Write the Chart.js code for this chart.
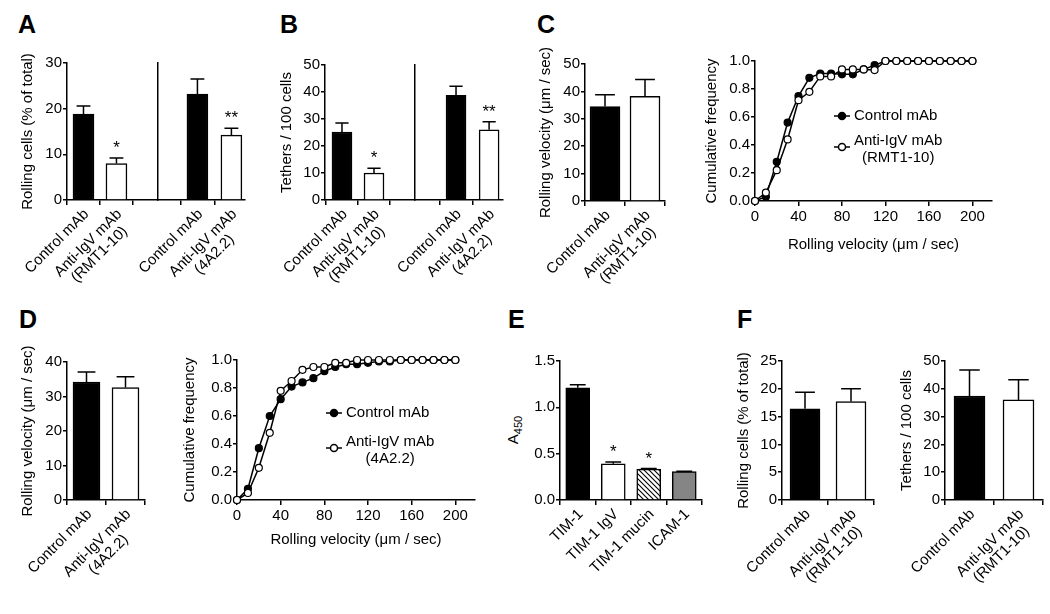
<!DOCTYPE html>
<html>
<head>
<meta charset="utf-8">
<script src="https://cdn.jsdelivr.net/npm/chart.js@4.4.1/dist/chart.umd.min.js"></script>
<style>
  body { margin: 0; width: 1050px; height: 614px; position: relative; overflow: hidden; background: #fff;
         font-family: 'Liberation Sans', Arial, Helvetica, sans-serif; color: #000; }
  .letter { position: absolute; font-weight: bold; font-size: 25px; line-height: 24px; }
  .ytitle { position: absolute; font-size: 15px; white-space: nowrap; transform: translate(-50%, -50%) rotate(-90deg); }
  .ytitle sub { font-size: 11px; }
</style>
</head>
<body>
<div class="letter" style="left:18px;top:12px">A</div>
<div class="letter" style="left:280px;top:12px">B</div>
<div class="letter" style="left:537px;top:12px">C</div>
<div class="letter" style="left:19px;top:307px">D</div>
<div class="letter" style="left:508px;top:307px">E</div>
<div class="letter" style="left:737px;top:307px">F</div>
<div class="ytitle" style="left:514px;top:430px">A<sub>450</sub></div>
<script>
const FONT = "'Liberation Sans', Arial, Helvetica, sans-serif";

// ---- data ----
const labelsRmt = ['Control mAb', ['Anti-IgV mAb', '(RMT1-10)']];
const labels4a2 = ['Control mAb', ['Anti-IgV mAb', '(4A2.2)']];

const aRmtMean = [18.8, 8.0];
const aRmtSem = [1.8, 1.2];
const aRmtSig = ['', '*'];
const a4a2Mean = [23.2, 14.2];
const a4a2Sem = [3.3, 1.5];
const a4a2Sig = ['', '**'];

const bRmtMean = [25.2, 10.0];
const bRmtSem = [3.3, 1.8];
const bRmtSig = ['', '*'];
const b4a2Mean = [38.8, 26.0];
const b4a2Sem = [3.3, 3.0];
const b4a2Sig = ['', '**'];

const cVelMean = [34.5, 38.2];
const cVelSem = [4.3, 6.1];
const dVelMean = [34.2, 32.6];
const dVelSem = [2.9, 3.1];

const velocityBins = [0, 10, 20, 30, 40, 50, 60, 70, 80, 90, 100, 110, 120, 130, 140, 150, 160, 170, 180, 190, 200];
const velocityTicks = [0, 40, 80, 120, 160, 200];
const cControlFreq = [0, 0.03, 0.28, 0.56, 0.75, 0.88, 0.91, 0.91, 0.905, 0.905, 0.94, 0.97, 1, 1, 1, 1, 1, 1, 1, 1, 1];
const cAntiFreq = [0, 0.06, 0.22, 0.44, 0.72, 0.78, 0.89, 0.89, 0.94, 0.94, 0.94, 0.935, 1, 1, 1, 1, 1, 1, 1, 1, 1];
const dControlFreq = [0, 0.08, 0.37, 0.6, 0.72, 0.81, 0.84, 0.87, 0.92, 0.95, 0.97, 0.97, 0.98, 0.99, 0.99, 1, 1, 1, 1, 1, 1];
const dAntiFreq = [0, 0.05, 0.23, 0.48, 0.78, 0.85, 0.93, 0.95, 0.95, 0.98, 0.98, 1, 1, 1, 1, 1, 1, 1, 1, 1, 1];

const eLabels = ['TIM-1', 'TIM-1 IgV', 'TIM-1 mucin', 'ICAM-1'];
const eMean = [1.21, 0.39, 0.333, 0.307];
const eSem = [0.035, 0.02, 0.006, 0.004];
const eSig = ['', '*', '*', ''];

const fRollMean = [16.4, 17.7];
const fRollSem = [3.0, 2.3];
const fTethMean = [37.4, 36.0];
const fTethSem = [9.4, 7.3];

// ---- helpers ----
function makeCanvas(left, top, width, height) {
  const c = document.createElement('canvas');
  c.width = width; c.height = height;
  c.style.cssText = `position:absolute;left:${left}px;top:${top}px;width:${width}px;height:${height}px`;
  document.body.appendChild(c);
  return c.getContext('2d');
}

// places a canvas so the chart area lands on box.L/R/T/B
function frame(box) {
  const padTop = 45, padRight = 14;
  const yW = box.titleX != null ? box.L - (box.titleX - 9) : (box.yW || 70);
  const xH = box.xTitleY != null ? box.xTitleY + 9 - box.B : 110;
  const ctx = makeCanvas(box.L - yW, box.T - padTop, yW + (box.R - box.L) + padRight, padTop + (box.B - box.T) + xH);
  return { ctx, yW, xH, padTop, padRight };
}

function hatchPattern() {
  const p = document.createElement('canvas');
  p.width = 5; p.height = 5;
  const g = p.getContext('2d');
  g.fillStyle = '#fff'; g.fillRect(0, 0, 5, 5);
  g.strokeStyle = '#000'; g.lineWidth = 1.1;
  g.beginPath();
  g.moveTo(-1, -1); g.lineTo(6, 6);
  g.moveTo(-1, 4); g.lineTo(1, 6);
  g.moveTo(4, -1); g.lineTo(6, 1);
  g.stroke();
  return g.createPattern(p, 'repeat');
}

function yAxis(f, o) {
  const showTicks = o.ticks !== false;
  return {
    type: 'linear', min: 0, max: o.max,
    afterFit: s => { s.width = f.yW; s.paddingTop = 0; s.paddingBottom = 0; },
    border: { display: true, color: '#000', width: 1.5 },
    grid: { drawOnChartArea: false, drawTicks: showTicks, tickLength: 4, color: '#000', lineWidth: 1.5 },
    ticks: { display: showTicks, stepSize: o.step, color: '#000', padding: 1,
             font: { family: FONT, size: 15 }, callback: o.fmt || (v => v) },
    title: { display: !!o.title, text: o.title, color: '#000', padding: 0, font: { family: FONT, size: 15 } }
  };
}

function labelPlugin(labels) {
  return {
    id: 'catLabels',
    afterDraw(chart) {
      const { ctx } = chart;
      const xs = chart.scales.x;
      const y0 = chart.chartArea.bottom;
      ctx.save();
      ctx.font = `15px ${FONT}`;
      ctx.fillStyle = '#000';
      ctx.textAlign = 'center';
      ctx.textBaseline = 'middle';
      labels.forEach((lab, i) => {
        const lines = Array.isArray(lab) ? lab : [lab];
        const w = Math.max(...lines.map(t => ctx.measureText(t).width));
        ctx.save();
        ctx.translate(xs.getPixelForValue(i) + 3, y0 + 12);
        ctx.rotate(-Math.PI / 4);
        lines.forEach((t, k) => ctx.fillText(t, -w / 2, k * 16));
        ctx.restore();
      });
      ctx.restore();
    }
  };
}

function errorPlugin(means, sems, sig, cap) {
  return {
    id: 'errorBars',
    afterDatasetsDraw(chart) {
      const { ctx } = chart;
      const xs = chart.scales.x, ys = chart.scales.y;
      ctx.save();
      ctx.strokeStyle = '#000';
      ctx.fillStyle = '#000';
      ctx.lineWidth = 1.5;
      means.forEach((m, i) => {
        const x = xs.getPixelForValue(i);
        const yb = ys.getPixelForValue(m);
        const yt = ys.getPixelForValue(m + sems[i]);
        ctx.beginPath();
        ctx.moveTo(x, yb); ctx.lineTo(x, yt);
        ctx.moveTo(x - cap, yt); ctx.lineTo(x + cap, yt);
        ctx.stroke();
        if (sig && sig[i]) {
          ctx.font = `17px ${FONT}`;
          ctx.textAlign = 'center';
          ctx.textBaseline = 'alphabetic';
          ctx.fillText(sig[i], x, yt - 5);
        }
      });
      ctx.restore();
    }
  };
}

function legendPlugin(names, x, ys) {
  return {
    id: 'cdfLegend',
    afterDraw(chart) {
      const { ctx, chartArea } = chart;
      ctx.save();
      ctx.font = `15px ${FONT}`;
      ctx.lineWidth = 1.5;
      ctx.strokeStyle = '#000';
      ctx.textBaseline = 'middle';
      ctx.textAlign = 'center';
      names.forEach((name, k) => {
        const mx = chartArea.left + x, my = chartArea.top + ys[k];
        ctx.beginPath(); ctx.moveTo(mx - 8, my); ctx.lineTo(mx + 8, my); ctx.stroke();
        ctx.beginPath(); ctx.arc(mx, my, 3.5, 0, Math.PI * 2);
        ctx.fillStyle = k === 0 ? '#000' : '#fff';
        ctx.fill(); ctx.stroke();
        ctx.fillStyle = '#000';
        const lines = Array.isArray(name) ? name : [name];
        const w = Math.max(...lines.map(t => ctx.measureText(t).width));
        const dy = lines.length > 1 ? -6 : 0;
        lines.forEach((t, j) => ctx.fillText(t, mx + 12 + w / 2, my + dy + j * 17));
      });
      ctx.restore();
    }
  };
}

function barChart(box) {
  const f = frame(box);
  return new Chart(f.ctx, {
    type: 'bar',
    data: {
      datasets: [{
        data: box.means.map((v, i) => ({ x: i, y: v })),
        backgroundColor: box.colors,
        borderColor: '#000',
        borderWidth: 1.5,
        barThickness: box.bar,
        borderSkipped: 'start'
      }]
    },
    options: {
      responsive: false, animation: false, events: [],
      layout: { padding: { top: f.padTop, right: f.padRight, left: 0, bottom: 0 } },
      plugins: { legend: { display: false }, tooltip: { enabled: false } },
      scales: {
        x: {
          type: 'linear', min: box.xMin, max: box.xMax, offset: false,
          afterBuildTicks: s => { s.ticks = box.labels.map((_, i) => ({ value: i })); },
          afterFit: s => { s.height = f.xH; s.paddingLeft = 0; s.paddingRight = 0; },
          border: { display: true, color: '#000', width: 1.5 },
          grid: { drawOnChartArea: false, drawTicks: true, tickLength: 5, color: '#000', lineWidth: 1.5 },
          ticks: { display: false }
        },
        y: yAxis(f, box)
      }
    },
    plugins: [labelPlugin(box.labels), errorPlugin(box.means, box.sems, box.sig, box.bar * 0.33)]
  });
}

function cdfChart(box) {
  const f = frame(box);
  const ds = (vals, fill, order) => ({
    data: vals.map((v, i) => ({ x: velocityBins[i], y: v })),
    borderColor: '#000', borderWidth: 1.5, tension: 0, fill: false, clip: false, order,
    pointRadius: 3.5, pointBackgroundColor: fill, pointBorderColor: '#000', pointBorderWidth: 1.2
  });
  return new Chart(f.ctx, {
    type: 'line',
    data: { datasets: [ds(box.control, '#000', 1), ds(box.anti, '#fff', 0)] },
    options: {
      responsive: false, animation: false, events: [],
      layout: { padding: { top: f.padTop, right: f.padRight, left: 0, bottom: 0 } },
      plugins: { legend: { display: false }, tooltip: { enabled: false } },
      scales: {
        x: {
          type: 'linear', min: 0, max: 218,
          afterBuildTicks: s => { s.ticks = velocityTicks.map(v => ({ value: v })); },
          afterFit: s => { s.height = f.xH; s.paddingLeft = 0; s.paddingRight = 0; },
          border: { display: true, color: '#000', width: 1.5 },
          grid: { drawOnChartArea: false, drawTicks: true, tickLength: 5, color: '#000', lineWidth: 1.5 },
          ticks: { color: '#000', padding: 2, maxRotation: 0, font: { family: FONT, size: 15 } },
          title: { display: true, text: 'Rolling velocity (\u03BCm / sec)', color: '#000', padding: 0, font: { family: FONT, size: 15 } }
        },
        y: yAxis(f, { max: 1, step: 0.2, fmt: v => v.toFixed(1), title: 'Cumulative frequency' })
      }
    },
    plugins: [legendPlugin(box.names, box.legendX, box.legendY)]
  });
}

const BW = ['#000', '#fff'];

// ---- panel A ----
barChart({ L: 67, R: 158, T: 63, B: 200, titleX: 28, xMin: -0.5, xMax: 2.26, bar: 21,
  labels: labelsRmt, means: aRmtMean, sems: aRmtSem, sig: aRmtSig, colors: BW,
  max: 30, step: 10, title: 'Rolling cells (% of total)' });
barChart({ L: 158, R: 245, T: 63, B: 200, xMin: -1.16, xMax: 1.4, bar: 21,
  labels: labels4a2, means: a4a2Mean, sems: a4a2Sem, sig: a4a2Sig, colors: BW,
  max: 30, step: 10, ticks: false });

// ---- panel B ----
barChart({ L: 325, R: 415, T: 65, B: 200, titleX: 287, xMin: -0.53, xMax: 2.28, bar: 20,
  labels: labelsRmt, means: bRmtMean, sems: bRmtSem, sig: bRmtSig, colors: BW,
  max: 50, step: 10, title: 'Tethers / 100 cells' });
barChart({ L: 415, R: 503, T: 65, B: 200, xMin: -1.24, xMax: 1.42, bar: 20,
  labels: labels4a2, means: b4a2Mean, sems: b4a2Sem, sig: b4a2Sig, colors: BW,
  max: 50, step: 10, ticks: false });

// ---- panel C ----
barChart({ L: 585, R: 665, T: 64, B: 201, titleX: 546, xMin: -0.5, xMax: 1.5, bar: 30,
  labels: labelsRmt, means: cVelMean, sems: cVelSem, colors: BW,
  max: 50, step: 10, title: 'Rolling velocity (\u03BCm / sec)' });
cdfChart({ L: 755, R: 992, T: 61, B: 201, titleX: 712, xTitleY: 245,
  control: cControlFreq, anti: cAntiFreq, names: labelsRmt, legendX: 87, legendY: [55, 86] });

// ---- panel D ----
barChart({ L: 67, R: 145, T: 362, B: 500, titleX: 28, xMin: -0.5, xMax: 1.5, bar: 27,
  labels: labels4a2, means: dVelMean, sems: dVelSem, colors: BW,
  max: 40, step: 10, title: 'Rolling velocity (\u03BCm / sec)' });
cdfChart({ L: 237, R: 475, T: 360, B: 500, titleX: 190, xTitleY: 540,
  control: dControlFreq, anti: dAntiFreq, names: labels4a2, legendX: 97, legendY: [53, 88] });

// ---- panel E ----
barChart({ L: 560, R: 702, T: 361, B: 500, yW: 40, xMin: -0.5, xMax: 3.5, bar: 24,
  labels: eLabels, means: eMean, sems: eSem, sig: eSig,
  colors: ['#000', '#fff', hatchPattern(), '#858585'],
  max: 1.5, step: 0.5, fmt: v => v.toFixed(1) });

// ---- panel F ----
barChart({ L: 782, R: 874, T: 361, B: 500, titleX: 744, xMin: -0.5, xMax: 1.5, bar: 30,
  labels: labelsRmt, means: fRollMean, sems: fRollSem, colors: BW,
  max: 25, step: 5, title: 'Rolling cells (% of total)' });
barChart({ L: 945, R: 1043, T: 361, B: 500, titleX: 907, xMin: -0.5, xMax: 1.5, bar: 31,
  labels: labelsRmt, means: fTethMean, sems: fTethSem, colors: BW,
  max: 50, step: 10, title: 'Tethers / 100 cells' });
</script>
</body>
</html>
